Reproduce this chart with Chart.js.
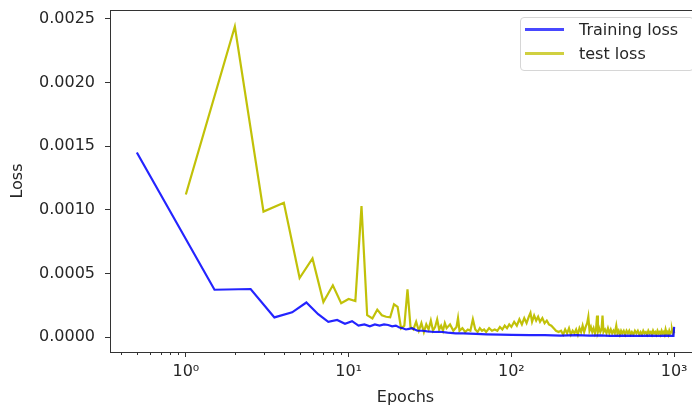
<!DOCTYPE html>
<html lang="en">
<head>
  <meta charset="UTF-8">
  <title>Training and test loss</title>
  <style>
* {
  margin: 0;
  padding: 0;
  box-sizing: border-box;
}

body {
  background: #fff;
  width: 692px;
  height: 408px;
  overflow: hidden;
  position: relative;
  font-family: 'DejaVu Sans', sans-serif;
}

#lossChart {
  position: absolute;
  left: 0;
  top: 0;
}

/* Legend box, upper right inside the axes */
.legend {
  position: absolute;
  left: 520px;
  top: 17px;
  width: 174px;
  height: 54px;
  border: 1px solid #d6d6d6;
  border-radius: 4px;
  background: rgba(255, 255, 255, 0.8);
}

.legend .row {
  position: absolute;
  left: 4px;
  height: 20px;
  display: flex;
  align-items: center;
}

.legend .swatch {
  width: 39px;
  height: 3px;
}

.legend .label {
  margin-left: 15px;
  font-size: 16px;
  color: #262626;
  white-space: nowrap;
}
  </style>
  <script src="https://cdn.jsdelivr.net/npm/chart.js"></script>
</head>
<body>

  <canvas id="lossChart" width="702" height="408"></canvas>

  <div class="legend">
    <div class="row" style="top: 1px;">
      <span class="swatch" style="background: rgba(40, 40, 255, 0.85);"></span>
      <span class="label">Training loss</span>
    </div>
    <div class="row" style="top: 25px;">
      <span class="swatch" style="background: rgba(200, 200, 30, 0.85);"></span>
      <span class="label">test loss</span>
    </div>
  </div>

  <script>
// Training loss
const trainEpochs = [
  0.5, 1.5, 2.5, 3.5, 4.5, 5.5, 6.5, 7.5, 8.5, 9.5, 10.5, 11.5, 12.5, 13.5, 14.5,
  15.5, 16.5, 17.5, 18.5, 19.5, 20.5, 21.5, 22.5, 23.5, 24.5, 25.5, 26.5, 28.5,
  30.5, 33.5, 36.5, 40.5, 45.5, 50.5, 60.5, 70.5, 85.5, 100.5, 130.5, 160.5,
  200.5, 250.5, 300.5, 350.5, 400.5, 500.5, 600.5, 700.5, 800.5, 900.5, 990.5, 999.5
];
const trainLoss = [
  0.00145, 0.000372, 0.000378, 0.000155, 0.000195, 0.000272, 0.00018, 0.00012,
  0.000135, 0.000105, 0.000125, 0.00009, 0.0001, 0.000085, 0.0001, 0.00009,
  0.0001, 0.000095, 0.000085, 0.00009, 0.000075, 0.00007, 0.00006, 0.000065,
  0.00007, 0.00006, 0.00005, 0.00005, 0.000045, 0.00004, 0.000042, 0.000035,
  0.00003, 0.00003, 0.000025, 0.000022, 0.00002, 0.000018, 0.000016, 0.000015,
  0.000012, 0.000016, 0.000011, 0.000013, 0.00001, 0.000012, 0.00001, 0.000011,
  0.00001, 0.000011, 0.00001, 0.00008
];

// Test loss
const testEpochs = [
  1, 2, 3, 4, 5, 6, 7, 8, 9, 10, 11, 12, 13, 14, 15, 16, 17, 18, 19, 20, 21, 22,
  23, 24, 25, 26, 27, 28, 29, 30, 31, 32, 33, 34, 35, 36, 37, 38, 39, 40, 42, 44,
  46, 47, 48, 50, 52, 54, 56, 58, 60, 62, 64, 66, 68, 70, 73, 76, 79, 82, 85, 88,
  91, 94, 97, 100, 104, 108, 112, 116, 120, 124, 128, 131, 134, 138, 142, 146,
  150, 155, 160, 165, 170, 176, 182, 188, 195,
  202, 208, 214, 220, 226, 232, 238, 244, 250, 256, 262, 268, 274, 280, 286, 292,
  297, 302, 308, 314, 320, 326, 331, 336, 340, 346, 352, 358, 363, 368, 376, 384,
  392, 400, 408, 416, 424, 432, 441, 448, 456, 464, 472, 480, 490, 500, 510, 520,
  530, 540, 550, 562, 574, 586, 598, 610, 622, 634, 646, 658, 670, 682, 694, 706,
  718, 730, 742, 754, 766, 778, 790, 802, 814, 826, 838, 850, 862, 874, 886, 898,
  910, 922, 934, 946, 958, 970, 982, 994, 1000
];
const testLoss = [
  0.00112, 0.00244, 0.000986, 0.001056, 0.000464, 0.000618, 0.000276, 0.000407,
  0.000266, 0.0003, 0.000284, 0.00103, 0.000172, 0.000146, 0.000216, 0.000172,
  0.00016, 0.000156, 0.000258, 0.000237, 0.000068, 0.00009, 0.000375, 0.00008,
  0.00006, 0.00012, 0.00005, 0.00011, 0.00004, 0.0001, 0.00006, 0.00013, 0.00005,
  0.00008, 0.00014, 0.00006, 0.00009, 0.00005, 0.00011, 0.00007, 0.0001, 0.00005,
  0.00008, 0.00015, 0.00005, 0.00007, 0.00004, 0.00006, 0.00005, 0.00014, 0.00006,
  0.00004, 0.00007, 0.00005, 0.00006, 0.00004, 0.00007, 0.00005, 0.00006, 0.00005,
  0.00008, 0.00006, 0.00009, 0.00007, 0.0001, 0.00008, 0.00012, 0.00009, 0.00014,
  0.0001, 0.00015, 0.00011, 0.00016, 0.00019, 0.00012, 0.00017, 0.00013, 0.00016,
  0.00012, 0.00015, 0.00011, 0.00013, 0.0001, 0.00009, 0.00007, 0.00005, 0.00004,
  0.00005, 0.00002, 0.00006, 0.00003, 0.00007, 0.00002, 0.00005, 0.00003, 0.00006,
  0.00002, 0.00007, 0.00004, 0.00009, 0.00004, 0.00008, 0.00011, 0.00016, 0.00005,
  0.00008, 0.00004, 0.00007, 0.00003, 0.00006, 0.00017, 0.00004, 0.00007, 0.00004,
  0.00006, 0.00017, 0.00004, 0.00006, 0.00003, 0.00007, 0.00003, 0.00006, 0.00003,
  0.00005, 0.00003, 0.00009, 0.00003, 0.00005, 0.00002, 0.00005, 0.00003, 0.00005,
  0.00002, 0.00005, 0.00003, 0.00005, 0.00002, 0.00004, 0.00002, 0.00005, 0.00003,
  0.00005, 0.00002, 0.00004, 0.00002, 0.00005, 0.00003, 0.00004, 0.00002, 0.00005,
  0.00003, 0.00004, 0.00002, 0.00005, 0.00003, 0.00004, 0.00002, 0.00005, 0.00003,
  0.00004, 0.00002, 0.00005, 0.00003, 0.00004, 0.00002, 0.00006, 0.00003, 0.00004,
  0.00002, 0.00005, 0.00003, 0.00004, 0.00006, 0.00003, 0.00005, 0.00003
];

// Axis ticks
const xMajorTicks = [1, 10, 100, 1000];
const xTickLabels = ['10\u2070', '10\u00b9', '10\u00b2', '10\u00b3'];
const yTicks = [0, 0.0005, 0.001, 0.0015, 0.002, 0.0025];

const axisColor = '#333';
const textColor = '#262626';

// full box round the plot plus the short minor ticks on the log axis
const frameAndMinorTicks = {
  id: 'frameAndMinorTicks',
  afterDraw(chart) {
    const {ctx, chartArea: a, scales: {x}} = chart;
    ctx.save();
    ctx.strokeStyle = axisColor;
    ctx.lineWidth = 1;
    ctx.strokeRect(a.left + 0.5, a.top + 0.5, a.right - a.left - 1, a.bottom - a.top);
    ctx.beginPath();
    for (let k = -1; k <= 3; k++) {
      for (let m = 2; m <= 9; m++) {
        const v = m * Math.pow(10, k);
        if (v < x.min || v > x.max) continue;
        const px = Math.round(x.getPixelForValue(v)) + 0.5;
        ctx.moveTo(px, a.bottom);
        ctx.lineTo(px, a.bottom + 3);
      }
    }
    ctx.stroke();
    ctx.restore();
  }
};

// keep the plot box where the reference has it: no extra room for edge labels
function noEdgePadding(scale) {
  scale.paddingTop = 0;
  scale.paddingBottom = 0;
  scale.paddingLeft = 0;
  scale.paddingRight = 0;
}

new Chart(document.getElementById('lossChart'), {
  type: 'line',
  data: {
    datasets: [
      {
        label: 'Training loss',
        data: trainEpochs.map((e, i) => ({x: e, y: trainLoss[i]})),
        borderColor: 'rgba(0, 0, 255, 0.86)',
        borderWidth: 2.2,
        pointRadius: 0,
        tension: 0,
        fill: false
      },
      {
        label: 'test loss',
        data: testEpochs.map((e, i) => ({x: e, y: testLoss[i]})),
        borderColor: 'rgba(191, 191, 0, 0.97)',
        borderWidth: 2.2,
        pointRadius: 0,
        tension: 0,
        fill: false
      }
    ]
  },
  options: {
    responsive: false,
    animation: false,
    layout: {padding: {top: 10, right: 1, left: 0, bottom: 0}},
    plugins: {
      legend: {display: false},
      tooltip: {enabled: false}
    },
    scales: {
      x: {
        type: 'logarithmic',
        bounds: 'data',
        min: 0.342,
        max: 1462,
        afterFit(scale) {
          scale.height = 56;
          noEdgePadding(scale);
        },
        afterBuildTicks(scale) {
          scale.ticks = xMajorTicks.map(v => ({value: v}));
        },
        border: {display: false},
        grid: {drawOnChartArea: false, drawTicks: true, tickLength: 5, color: axisColor},
        ticks: {
          autoSkip: false,
          maxRotation: 0,
          padding: 5,
          color: textColor,
          font: {family: 'DejaVu Sans', size: 16},
          callback: (v) => {
            const i = xMajorTicks.indexOf(v);
            return i >= 0 ? xTickLabels[i] : '';
          }
        },
        title: {
          display: true,
          text: 'Epochs',
          color: textColor,
          font: {family: 'DejaVu Sans', size: 16},
          padding: {top: 0, bottom: 1}
        }
      },
      y: {
        bounds: 'data',
        min: -0.000117,
        max: 0.00257,
        afterFit(scale) {
          scale.width = 110;
          noEdgePadding(scale);
        },
        afterBuildTicks(scale) {
          scale.ticks = yTicks.map(v => ({value: v}));
        },
        border: {display: false},
        grid: {drawOnChartArea: false, drawTicks: true, tickLength: 5, color: axisColor},
        ticks: {
          padding: 10,
          color: textColor,
          font: {family: 'DejaVu Sans', size: 16},
          callback: (v) => v.toFixed(4)
        },
        title: {
          display: true,
          text: 'Loss',
          color: textColor,
          font: {family: 'DejaVu Sans', size: 16},
          padding: {top: 8, bottom: 0}
        }
      }
    }
  },
  plugins: [frameAndMinorTicks]
});
  </script>

</body>
</html>
